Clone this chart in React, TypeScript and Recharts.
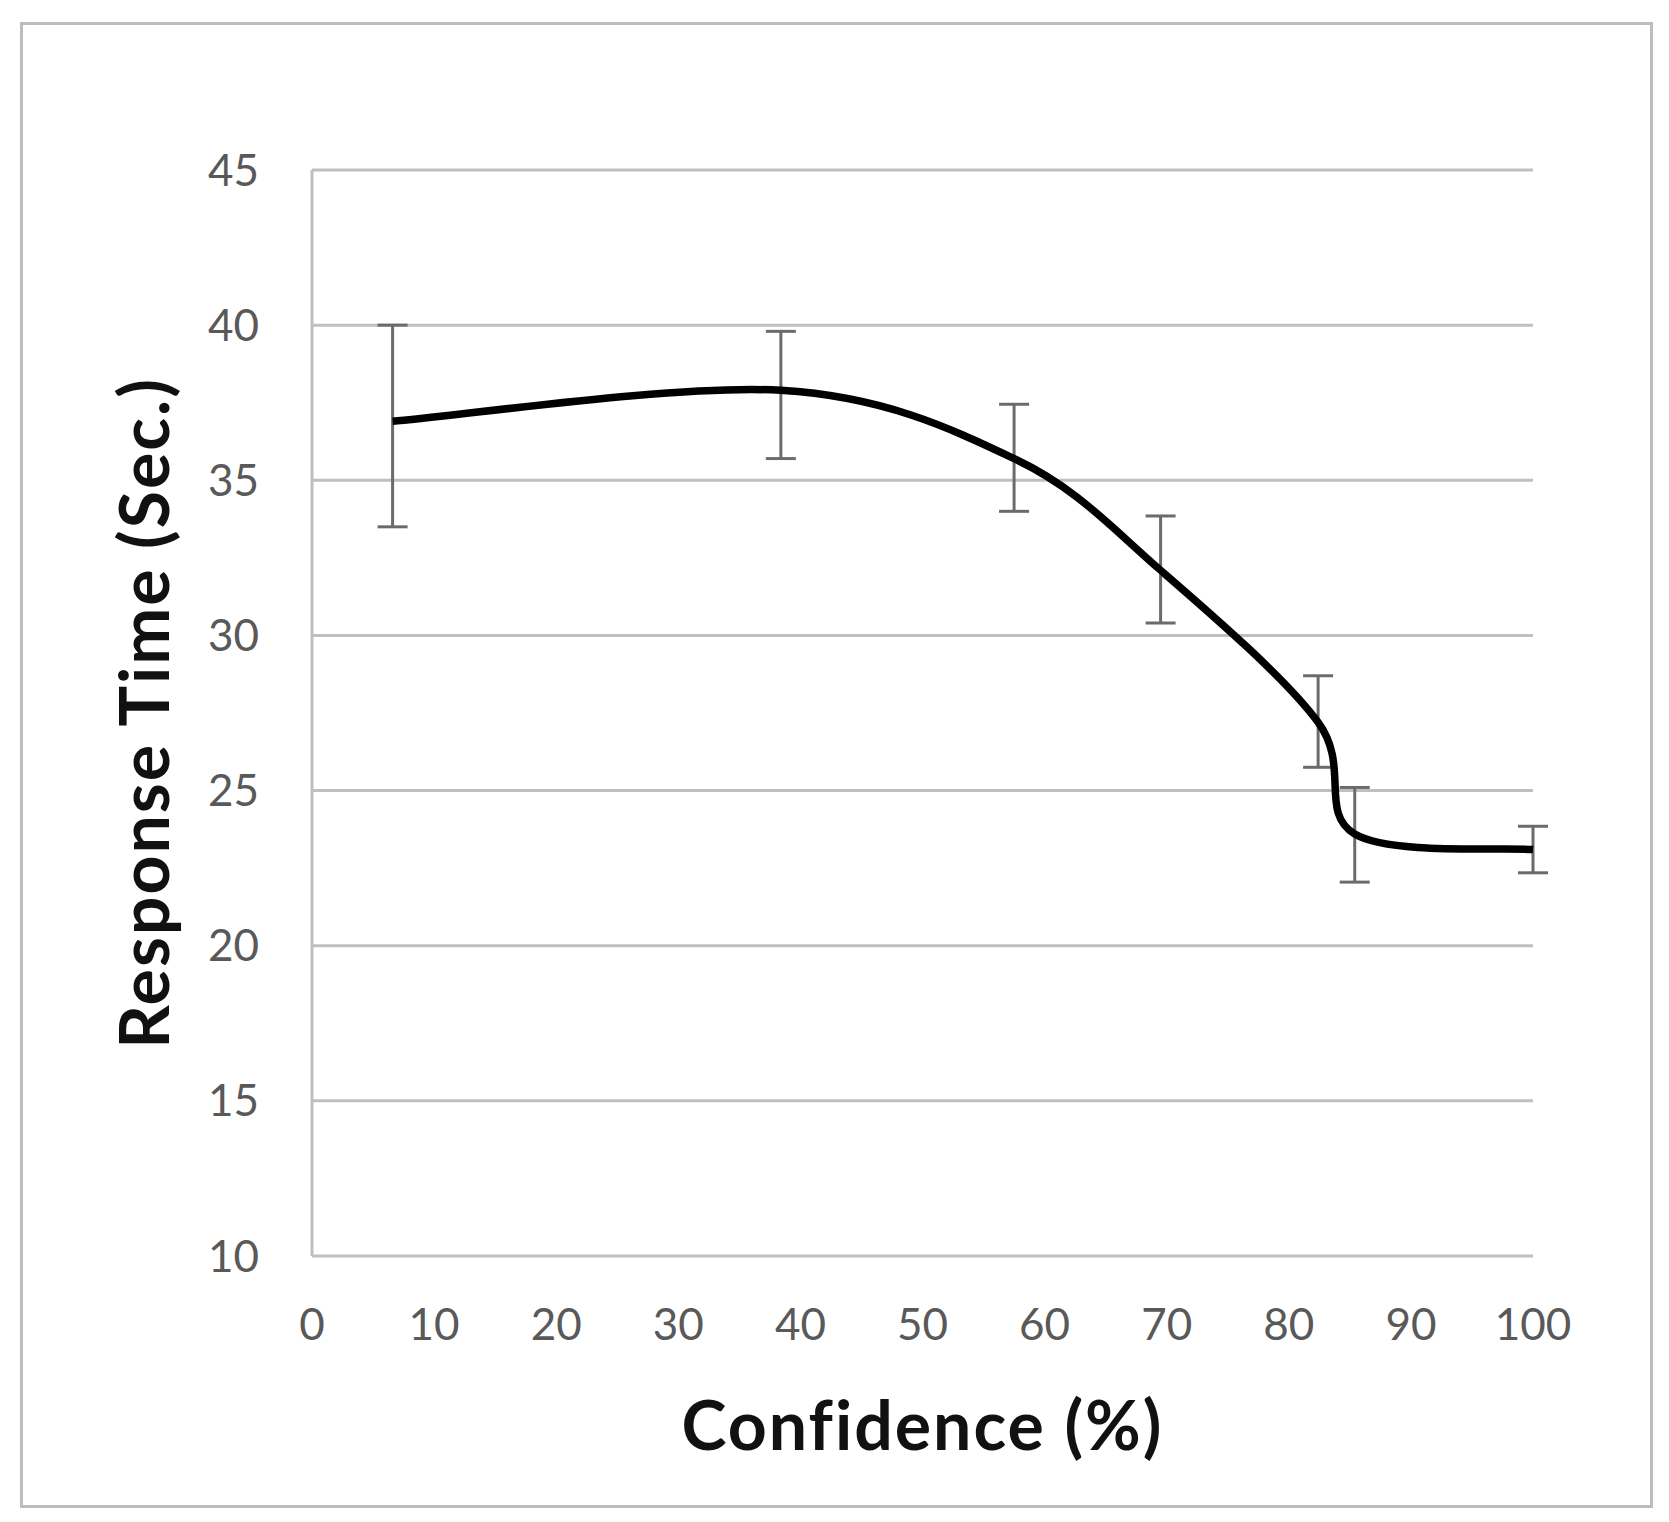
import React from 'react';
import { LineChart, Line, XAxis, YAxis, CartesianGrid, ErrorBar } from 'recharts';

const confidence = [6.6, 38.4, 57.5, 69.5, 82.4, 85.4, 100];
const responseTime = [36.9, 37.9, 35.7, 32.1, 27.2, 23.6, 23.1];
const errLow = [3.4, 2.2, 1.7, 1.7, 1.45, 1.55, 0.75];
const errHigh = [3.1, 1.9, 1.75, 1.75, 1.5, 1.5, 0.75];
const xTicks = [0, 10, 20, 30, 40, 50, 60, 70, 80, 90, 100];
const yTicks = [10, 15, 20, 25, 30, 35, 40, 45];

const data = confidence.map((c, i) => ({
  x: c,
  y: responseTime[i],
  err: [errLow[i], errHigh[i]],
}));

const FONT = 'Lato, "Open Sans", sans-serif';

// Smoothed line like a spreadsheet "smoothed line" (uniform Catmull-Rom spline)
function smoothCurve(context: any) {
  let pts: number[][] = [];
  return {
    areaStart() {},
    areaEnd() {},
    lineStart() {
      pts = [];
    },
    point(x: number, y: number) {
      pts.push([+x, +y]);
    },
    lineEnd() {
      const n = pts.length;
      if (n === 0) return;
      context.moveTo(pts[0][0], pts[0][1]);
      for (let i = 0; i < n - 1; i++) {
        const p0 = pts[i - 1] || pts[i];
        const p1 = pts[i];
        const p2 = pts[i + 1];
        const p3 = pts[i + 2] || p2;
        context.bezierCurveTo(
          p1[0] + (p2[0] - p0[0]) / 6,
          p1[1] + (p2[1] - p0[1]) / 6,
          p2[0] - (p3[0] - p1[0]) / 6,
          p2[1] - (p3[1] - p1[1]) / 6,
          p2[0],
          p2[1]
        );
      }
    },
  };
}

const titleStyle = {
  fontSize: 68,
  fontWeight: 700,
  fontFamily: FONT,
  fill: '#111',
  letterSpacing: 2,
};

export default function App() {
  return (
    <div style={{ position: 'absolute', left: 0, top: 0, width: 1669, height: 1522, background: '#fff' }}>
      <div
        style={{
          position: 'absolute',
          left: 20,
          top: 22,
          width: 1627,
          height: 1480,
          border: '3px solid #bdbdbd',
        }}
      />
      <div style={{ position: 'absolute', left: 0, top: 0 }}>
        <LineChart
          width={1669}
          height={1522}
          data={data}
          margin={{ top: 170, right: 136, bottom: 0, left: 0 }}
        >
          <CartesianGrid vertical={false} stroke="#bfbfbf" strokeWidth={3} />
          <XAxis
            dataKey="x"
            type="number"
            domain={[0, 100]}
            ticks={xTicks}
            height={266}
            axisLine={false}
            tickLine={false}
            tickSize={0}
            tickMargin={53}
            tick={{ fill: '#595959', fontSize: 44, fontFamily: FONT }}
            label={{
              value: 'Confidence (%)',
              position: 'insideBottom',
              offset: 72,
              style: titleStyle,
            }}
          />
          <YAxis
            type="number"
            domain={[10, 45]}
            ticks={yTicks}
            width={312}
            axisLine={{ stroke: '#bfbfbf', strokeWidth: 3 }}
            tickLine={false}
            tickSize={0}
            tickMargin={53}
            tick={{ fill: '#595959', fontSize: 44, fontFamily: FONT }}
            label={{
              value: 'Response Time (Sec.)',
              angle: -90,
              position: 'insideLeft',
              offset: 145,
              style: { ...titleStyle, textAnchor: 'middle' },
            }}
          />
          <Line
            dataKey="y"
            type={smoothCurve as any}
            stroke="#000"
            strokeWidth={7.5}
            dot={false}
            activeDot={false}
            isAnimationActive={false}
          >
            <ErrorBar
              dataKey="err"
              direction="y"
              width={15}
              stroke="#6b6b6b"
              strokeWidth={3}
              isAnimationActive={false}
            />
          </Line>
        </LineChart>
      </div>
    </div>
  );
}
